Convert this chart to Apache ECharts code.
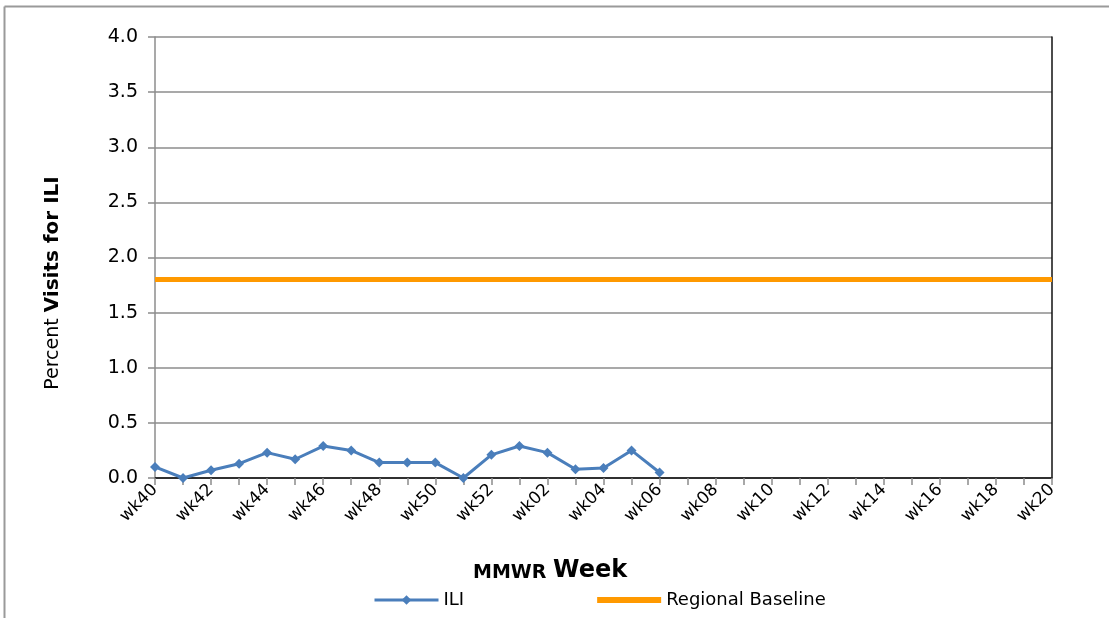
<!DOCTYPE html>
<html>
<head>
<meta charset="utf-8">
<script src="https://cdn.jsdelivr.net/npm/echarts@6/dist/echarts.min.js"></script>
<style>
html,body{margin:0;padding:0;background:#fff;}
#chart{width:1109px;height:618px;}
</style>
</head>
<body>
<div id="chart"></div>
<script>
const weeks = ['wk40','wk41','wk42','wk43','wk44','wk45','wk46','wk47','wk48','wk49','wk50','wk51','wk52',
  'wk01','wk02','wk03','wk04','wk05','wk06','wk07','wk08','wk09','wk10','wk11','wk12','wk13','wk14',
  'wk15','wk16','wk17','wk18','wk19','wk20'];
const iliValues = [0.10,0.00,0.07,0.13,0.23,0.17,0.29,0.25,0.14,0.14,0.14,0.00,0.21,0.29,0.23,0.08,0.09,0.25,0.05];
const baselineValue = 1.8;
const baselineValues = weeks.map(() => baselineValue);
const yTicks = { min: 0, max: 4, interval: 0.5 };

const chart = echarts.init(document.getElementById('chart'));
const font = '"DejaVu Sans", Verdana, sans-serif';
chart.setOption({
  animation: false,
  backgroundColor: '#fff',
  textStyle: { fontFamily: font },
  graphic: [
    { type: 'line', shape: { x1: 4.5, y1: 6.5, x2: 1109, y2: 6.5 }, style: { stroke: '#9a9a9a', lineWidth: 2 } },
    { type: 'line', shape: { x1: 4.5, y1: 6.5, x2: 4.5, y2: 618 }, style: { stroke: '#9a9a9a', lineWidth: 2 } }
  ],
  title: {
    left: 473, top: 559, padding: 0,
    text: '{a|MMWR }{b|Week}',
    textStyle: {
      rich: {
        a: { fontFamily: font, fontWeight: 'bold', fontSize: 19, color: '#000', verticalAlign: 'bottom' },
        b: { fontFamily: font, fontWeight: 'bold', fontSize: 24, color: '#000', verticalAlign: 'bottom' }
      }
    }
  },
  legend: {
    left: 368, top: 586,
    itemGap: 133,
    itemWidth: 64, itemHeight: 12,
    lineStyle: { width: 3 },
    textStyle: { fontFamily: font, fontSize: 18, color: '#000', padding: [0,0,0,0] },
    data: [
      { name: 'ILI' },
      { name: 'Regional Baseline', icon: 'path://M0,0 L64,0 L64,6 L0,6 Z' }
    ]
  },
  grid: { left: 155, right: 57, top: 37, bottom: 140 },
  xAxis: [{
    type: 'category',
    data: weeks,
    boundaryGap: false,
    axisLine: { lineStyle: { color: '#8c8c8c', width: 1.5 } },
    axisTick: { show: true, interval: 0, length: 7, lineStyle: { color: '#8c8c8c', width: 1.5 } },
    axisLabel: { interval: 1, rotate: 45, fontSize: 17, color: '#000', margin: 9, fontFamily: font },
    splitLine: { show: false }
  }, {
    type: 'category',
    data: weeks,
    position: 'top',
    boundaryGap: false,
    axisLine: { lineStyle: { color: '#111', width: 1.5 } },
    axisTick: { show: false },
    axisLabel: { show: false }
  }],
  yAxis: [{
    type: 'value',
    min: yTicks.min, max: yTicks.max, interval: yTicks.interval,
    name: '{a|Percent }{b|Visits for ILI}',
    nameLocation: 'middle',
    nameRotate: 90,
    nameGap: 92,
    nameTextStyle: {
      padding: [0, 51, 0, 0],
      rich: {
        a: { fontFamily: font, fontSize: 19, color: '#000', verticalAlign: 'bottom' },
        b: { fontFamily: font, fontSize: 20, fontWeight: 'bold', color: '#000', verticalAlign: 'bottom' }
      }
    },
    axisLine: { show: true, lineStyle: { color: '#8c8c8c', width: 1.5 } },
    axisTick: { show: true, length: 7, lineStyle: { color: '#8c8c8c', width: 1.5 } },
    axisLabel: { fontSize: 19, color: '#000', margin: 17, fontFamily: font, formatter: v => v.toFixed(1) },
    splitLine: { show: true, lineStyle: { color: '#8c8c8c', width: 1.5 } }
  }, {
    type: 'value',
    position: 'right',
    min: yTicks.min, max: yTicks.max, interval: yTicks.interval,
    axisLine: { show: true, lineStyle: { color: '#111', width: 1.5 } },
    axisTick: { show: false },
    axisLabel: { show: false },
    splitLine: { show: false }
  }],
  series: [{
    name: 'ILI',
    type: 'line',
    data: iliValues,
    color: '#4a7ebb',
    lineStyle: { width: 3, color: '#4a7ebb' },
    symbol: 'diamond',
    symbolSize: 10,
    itemStyle: { color: '#4a7ebb' },
    z: 3
  }, {
    name: 'Regional Baseline',
    type: 'line',
    data: baselineValues,
    color: '#ff9900',
    lineStyle: { width: 5, color: '#ff9900' },
    symbol: 'none',
    showSymbol: false,
    z: 2
  }]
});
</script>
</body>
</html>
